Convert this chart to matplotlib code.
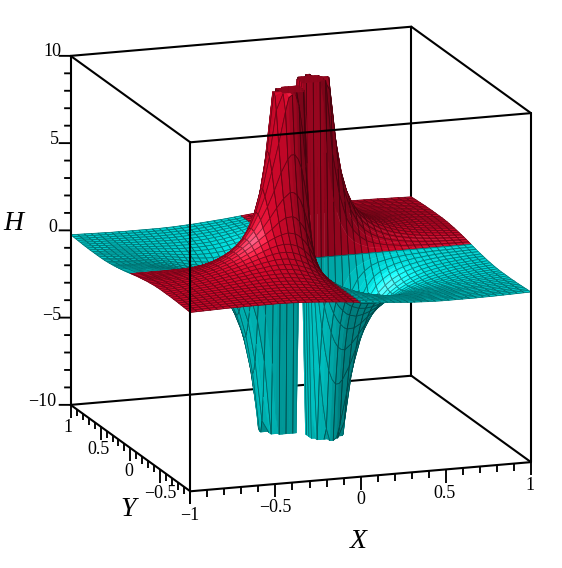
"""
Saddle-like surface H(X, Y) with four clipped spikes, in a Maple style 3D box.
Output: out.png
"""

import numpy as np
import matplotlib
matplotlib.use("Agg")
import matplotlib.pyplot as plt
from mpl_toolkits.mplot3d import proj3d
from mpl_toolkits.mplot3d.art3d import Poly3DCollection, Line3DCollection

# ── Data ────────────────────────────────────────────────
# grid positions of one quadrant (0..1), the other three are mirrored
grid_q = [0, .02, .04, .06, .08, .10, .12, .14, .16, .20, .24, .28, .32, .36, .40,
          .44, .48, .52, .56, .60, .64, .68, .72, .76, .80, .84, .88, .92, .96, 1]

# estimated |H| for X >= 0, Y >= X, one row per X, starting at Y = X, cut at view limit 10
h_rows = [
    [0] * 30,
    [10, 10, 10, 10, 10, 10, 8.75, 5.9, 3.06, 1.79, 1.06, .68, .46, .31, .23, .18, .14, .11, .09, .08, .06, .05, .05, .04, .03, .03, .03, .02, .02],
    [10, 10, 10, 10, 10, 10, 10, 5.78, 3.42, 2.05, 1.32, .89, .61, .46, .36, .28, .23, .18, .15, .13, .11, .09, .08, .07, .06, .05, .05, .04],
    [10, 10, 10, 10, 10, 10, 7.89, 4.81, 2.9, 1.88, 1.29, .90, .68, .53, .42, .33, .27, .22, .19, .16, .13, .12, .10, .09, .08, .07, .06],
    [10, 10, 10, 10, 10, 9.29, 5.86, 3.58, 2.38, 1.65, 1.16, .88, .68, .54, .44, .36, .30, .25, .21, .18, .15, .13, .12, .10, .09, .08],
    [10, 10, 10, 10, 10, 6.4, 4.12, 2.76, 1.94, 1.38, 1.06, .83, .66, .53, .44, .36, .30, .26, .22, .19, .16, .14, .13, .11, .10],
    [10, 10, 10, 10, 6.67, 4.45, 3.03, 2.16, 1.58, 1.22, .96, .77, .62, .51, .43, .36, .30, .26, .22, .19, .17, .15, .13, .12],
    [10, 10, 9.85, 6.66, 4.61, 3.25, 2.35, 1.74, 1.36, 1.08, .87, .71, .58, .49, .41, .35, .30, .26, .22, .20, .17, .15, .13],
    [10, 9.08, 6.44, 4.64, 3.35, 2.46, 1.86, 1.47, 1.17, .95, .78, .65, .54, .46, .39, .33, .29, .25, .22, .19, .17, .15],
    [7.25, 5.70, 4.31, 3.32, 2.55, 2.0, 1.61, 1.31, 1.08, .90, .75, .63, .54, .46, .40, .35, .30, .27, .23, .21, .18],
    [4.69, 3.81, 3.09, 2.47, 2.03, 1.67, 1.39, 1.16, .98, .83, .70, .60, .52, .45, .39, .35, .31, .27, .24, .21],
    [3.25, 2.74, 2.33, 1.97, 1.67, 1.41, 1.20, 1.02, .87, .75, .65, .57, .49, .43, .38, .34, .30, .27, .24],
    [2.44, 2.14, 1.86, 1.61, 1.39, 1.20, 1.04, .90, .78, .68, .60, .53, .46, .41, .37, .33, .29, .26],
    [1.93, 1.72, 1.52, 1.33, 1.17, 1.03, .90, .79, .70, .62, .55, .49, .43, .39, .35, .31, .28],
    [1.56, 1.41, 1.26, 1.12, 1.00, .89, .79, .70, .63, .56, .50, .45, .40, .36, .33, .30],
    [1.29, 1.17, 1.06, .96, .86, .77, .70, .62, .56, .51, .46, .41, .37, .34, .31],
    [1.09, 1.00, .91, .83, .75, .68, .62, .56, .51, .46, .42, .38, .35, .32],
    [.92, .85, .79, .72, .66, .60, .55, .50, .46, .42, .38, .35, .32],
    [.80, .74, .69, .63, .58, .54, .49, .45, .42, .38, .35, .32],
    [.69, .65, .60, .56, .52, .48, .44, .41, .38, .35, .32],
    [.61, .57, .54, .50, .46, .43, .40, .37, .35, .32],
    [.54, .51, .48, .45, .42, .39, .37, .34, .32],
    [.48, .46, .43, .40, .38, .36, .33, .31],
    [.43, .41, .39, .37, .34, .32, .31],
    [.39, .37, .35, .33, .31, .30],
    [.35, .34, .32, .30, .29],
    [.32, .31, .29, .28],
    [.30, .28, .27],
    [.27, .26],
    [.25],
]

z_ticks = list(range(-10, 11))
z_labels = ["10", "5", "0", "\u22125", "\u221210"]
xy_ticks = [round(-1 + 0.1 * k, 1) for k in range(21)]
y_labels = ["1", "0.5", "0", "\u22120.5"]
x_labels = ["\u22121", "\u22120.5", "0", "0.5", "1"]

# ── Style ───────────────────────────────────────────────
FONT = "Liberation Serif"
RED = np.array([0.78, 0.03, 0.16])
CYAN = np.array([0.0, 0.80, 0.80])
ELEV, AZIM = 14.4, -109.0
W, H_PX = 562, 568

# ── Build full surface from the quadrant ────────────────
n = len(grid_q)
q = np.zeros((n, n))
for i, row in enumerate(h_rows):
    q[i, i:] = row
    q[i:, i] = row

idx = np.r_[n - 1:0:-1, 0:n]
signs = np.r_[-np.ones(n - 1), np.ones(n)]
xs = np.array(grid_q)[idx] * signs
ys = xs.copy()
hh = q[np.ix_(idx, idx)] * np.outer(signs, signs)
m = len(xs)

# ── Facet colours (simple light from the -X side) ───────
el, az = np.radians(ELEV), np.radians(AZIM)
view = np.array([np.cos(el) * np.cos(az), np.cos(el) * np.sin(az), np.sin(el)])
light = np.array([-0.62, -0.25, 0.74])
light = light / np.linalg.norm(light)

face_col = np.zeros((m - 1, m - 1, 3))
for i in range(m - 1):
    for j in range(m - 1):
        a = [xs[i + 1] - xs[i], ys[j + 1] - ys[j], (hh[i + 1, j + 1] - hh[i, j]) / 10]
        b = [xs[i] - xs[i + 1], ys[j + 1] - ys[j], (hh[i, j + 1] - hh[i + 1, j]) / 10]
        nrm = np.cross(a, b)
        nrm = nrm / np.linalg.norm(nrm)
        if nrm @ view < 0:
            nrm = -nrm
        nl = max(nrm @ light, 0)
        mean_h = hh[i:i + 2, j:j + 2].mean()
        base = RED if mean_h > 0 else CYAN
        if abs(mean_h) >= 10:
            face_col[i, j] = base * 0.72
        else:
            face_col[i, j] = np.clip(base * (0.62 + 0.52 * nl) + 0.35 * nl ** 25, 0, 1)

# ── Figure and view ─────────────────────────────────────
fig = plt.figure(figsize=(W / 100, H_PX / 100), dpi=100, facecolor="white")
ax = fig.add_axes([0, 0, 1, 1], projection="3d", computed_zorder=False)
ax.set_proj_type("ortho")
ax.view_init(elev=ELEV, azim=AZIM)
ax.set_xlim(-1, 1)
ax.set_ylim(-1, 1)
ax.set_zlim(-10, 10)
ax.set_axis_off()
ax.patch.set_alpha(0)


def to_px(x, y, z):
    px, py, _ = proj3d.proj_transform(x, y, z, ax.get_proj())
    return ax.transData.transform((px, py))


# scale and shift so the box lands where it is in the reference
ax.set_box_aspect((1, 1.02, 1))
ax.apply_aspect()
edge = to_px(-1, -1, 10)[1] - to_px(-1, -1, -10)[1]
ax.set_box_aspect((1, 1.02, 1), zoom=349.0 / edge)
ax.apply_aspect()
centre = to_px(0, 0, 0)
ax.set_position([(300.8 - centre[0]) / W, (H_PX - 259.0 - centre[1]) / H_PX, 1, 1])
ax.apply_aspect()

# ── Surface, far row to near row ────────────────────────
for order, j in enumerate(range(m - 2, -1, -1)):
    polys, cols = [], []
    segs, seg_cols = [], []
    for i in range(m - 1):
        polys.append([(xs[i], ys[j], hh[i, j]), (xs[i + 1], ys[j], hh[i + 1, j]),
                      (xs[i + 1], ys[j + 1], hh[i + 1, j + 1]), (xs[i], ys[j + 1], hh[i, j + 1])])
        cols.append(face_col[i, j])
        line_col = face_col[i, j] * 0.55
        # mesh lines only every 0.04, the finer grid near the spikes stays unlined
        for ii in (i, i + 1):
            on_mesh = abs(xs[ii] / 0.04 - round(xs[ii] / 0.04)) < 1e-6
            capped = abs(hh[ii, j]) >= 10 and abs(hh[ii, j + 1]) >= 10
            if on_mesh and not capped:
                segs.append([(xs[ii], ys[j], hh[ii, j]), (xs[ii], ys[j + 1], hh[ii, j + 1])])
                seg_cols.append(line_col)
        for jj in (j, j + 1):
            on_mesh = abs(ys[jj] / 0.04 - round(ys[jj] / 0.04)) < 1e-6
            capped = abs(hh[i, jj]) >= 10 and abs(hh[i + 1, jj]) >= 10
            if on_mesh and not capped:
                segs.append([(xs[i], ys[jj], hh[i, jj]), (xs[i + 1], ys[jj], hh[i + 1, jj])])
                seg_cols.append(line_col)
    coll = Poly3DCollection(polys, facecolors=cols, edgecolors=cols, linewidths=0.3)
    coll.set_zorder(10 + 2 * order)
    ax.add_collection3d(coll, autolim=False)
    if segs:
        mesh = Line3DCollection(segs, colors=seg_cols, linewidths=0.55)
        mesh.set_zorder(11 + 2 * order)
        ax.add_collection3d(mesh, autolim=False)

# ── Box ─────────────────────────────────────────────────
BOX = dict(color="black", linewidth=1.5, solid_capstyle="round")
back = [((-1, 1, -10), (1, 1, -10)), ((1, 1, -10), (1, -1, -10)), ((1, 1, -10), (1, 1, 10)),
        ((-1, 1, 10), (1, 1, 10)), ((1, 1, 10), (1, -1, 10))]
front = [((-1, -1, -10), (1, -1, -10)), ((-1, -1, -10), (-1, 1, -10)), ((-1, -1, -10), (-1, -1, 10)),
         ((1, -1, -10), (1, -1, 10)), ((-1, 1, -10), (-1, 1, 10)),
         ((-1, -1, 10), (1, -1, 10)), ((-1, -1, 10), (-1, 1, 10))]
for p0, p1 in back:
    ax.plot(*zip(p0, p1), zorder=1, **BOX)
for p0, p1 in front:
    ax.plot(*zip(p0, p1), zorder=500, **BOX)

# ── Ticks ───────────────────────────────────────────────
TICK = dict(color="black", linewidth=1.35, zorder=500, solid_capstyle="butt")
for t in xy_ticks:
    major = abs(t * 2 - round(t * 2)) < 1e-6
    low = -10 - (0.75 if major else 0.4)
    ax.plot([t, t], [-1, -1], [-10, low], **TICK)
    ax.plot([-1, -1], [t, t], [-10, low], **TICK)
for t in z_ticks:
    length = 0.066 if t % 5 == 0 else 0.036
    ax.plot([-1, -1 - 0.9455 * length], [1, 1 + 0.3256 * length], [t, t], **TICK)

# ── Text ────────────────────────────────────────────────


def put(x, y, s, **kw):
    fig.text(x / W, 1 - y / H_PX, s, ha="center", va="center", family=FONT, **kw)


for s, (x, y) in zip(z_labels, [(52, 52), (54, 139), (53, 227), (52, 315), (42, 401)]):
    put(x, y, s, fontsize=13)
for s, (x, y) in zip(y_labels, [(68, 427), (99, 449), (129, 471), (160, 493)]):
    put(x, y, s, fontsize=13)
for s, (x, y) in zip(x_labels, [(190, 515), (275, 508), (361, 499), (444, 494), (530, 486)]):
    put(x, y, s, fontsize=13)
put(13, 223, "H", fontsize=20, style="italic")
put(128, 510, "Y", fontsize=20, style="italic")
put(358, 541, "X", fontsize=20, style="italic")

fig.savefig("out.png", dpi=100)
